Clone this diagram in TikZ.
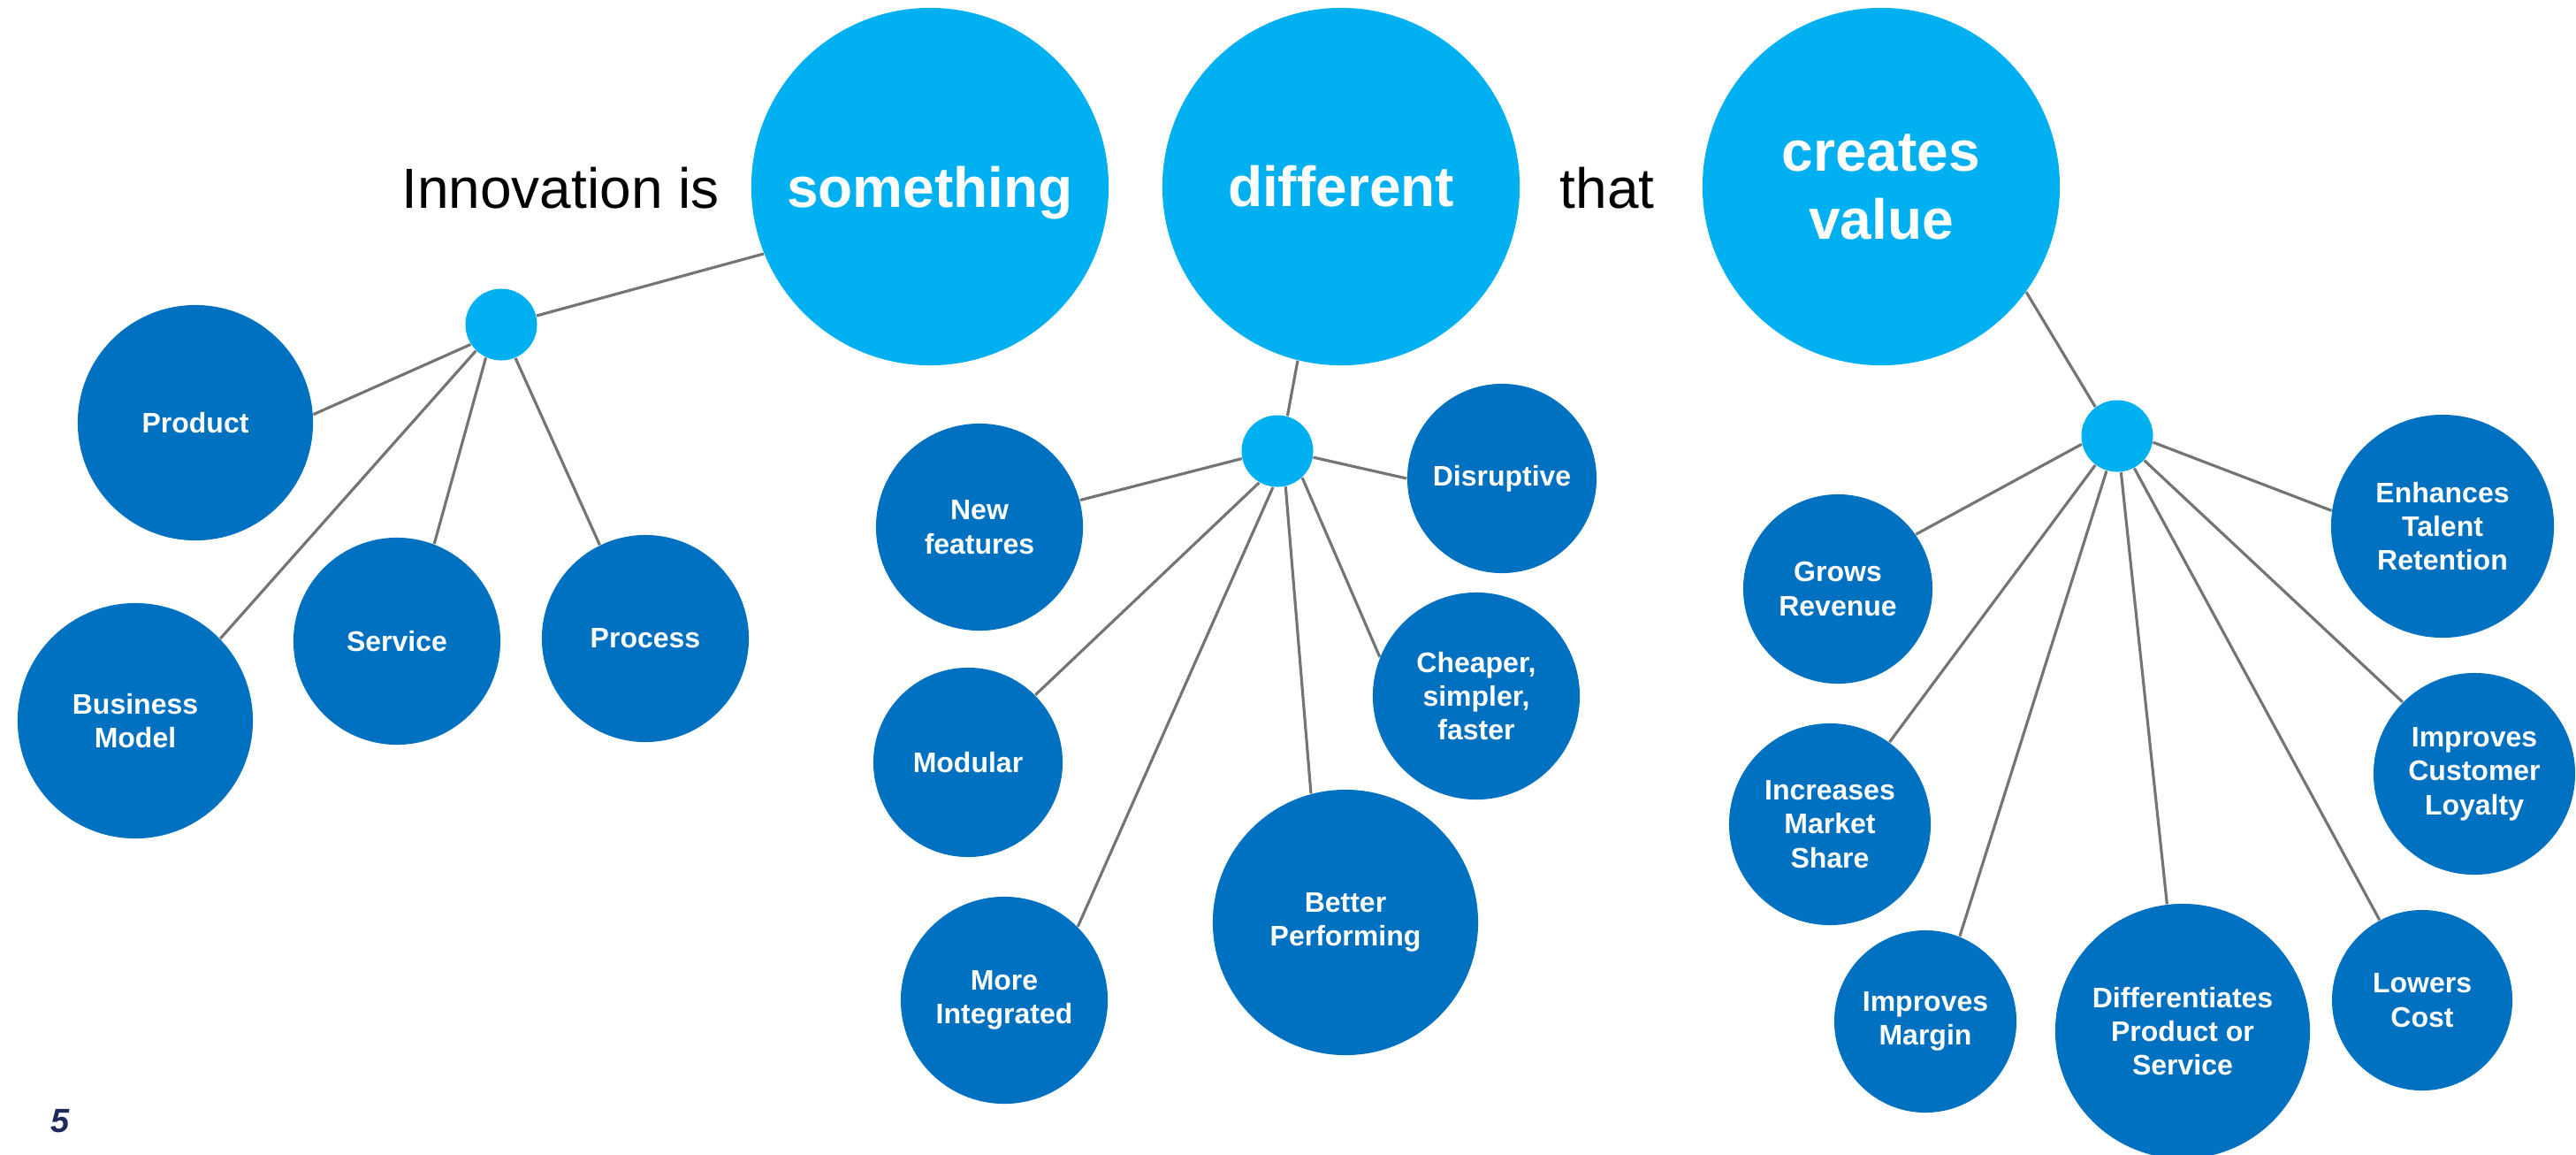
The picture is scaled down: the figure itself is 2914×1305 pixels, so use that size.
\documentclass[tikz,border=0pt]{standalone}
\usepackage{fontspec}
\setmainfont{Liberation Sans}
\usepackage{tikz}

\definecolor{lightblue}{HTML}{00B0F0}
\definecolor{darkblue}{HTML}{0070C0}
\definecolor{linegray}{HTML}{747474}
\definecolor{navy}{HTML}{1F2A5C}

\begin{document}
\begin{tikzpicture}[x=0.01cm,y=-0.01cm,
  word/.style={circle,fill=lightblue,inner sep=0pt,minimum size=4.04cm,text=white,align=center,font=\fontsize{18.2}{21.9}\selectfont\bfseries},
  hub/.style={circle,fill=lightblue,inner sep=0pt,minimum size=0.81cm},
  leaf/.style={circle,fill=darkblue,inner sep=0pt,minimum size=#1,text=white,align=center,font=\fontsize{9.1}{10.9}\selectfont\bfseries},
  plain/.style={anchor=base,font=\fontsize{18.2}{21.9}\selectfont},
  link/.style={draw=linegray,line width=0.9pt}]
\useasboundingbox (0,0) rectangle (2914,1305);

%Satz oben
\node[plain] (innov) at (634,235) {Innovation is};
\node[word,text depth=0pt] (something) at (1052,211) {something};
\node[word] (different) at (1517,211) {different};
\node[plain] (that) at (1818,235) {that};
\node[word] (creates) at (2128,211) {creates\\value};

%kleine Knoten
\node[hub] (hub1) at (567,367) {};
\node[hub] (hub2) at (1445,510) {};
\node[hub] (hub3) at (2395,493) {};

%was
\node[leaf=2.66cm] (product) at (221,478) {Product};
\node[leaf=2.66cm] (bizmodel) at (153,815) {Business\\Model};
\node[leaf=2.34cm] (service) at (449,725) {Service};
\node[leaf=2.34cm] (process) at (730,722) {Process};

%wie anders
\node[leaf=2.34cm] (newfeat) at (1108,596) {New\\features};
\node[leaf=2.14cm] (disrupt) at (1699,541) {Disruptive};
\node[leaf=2.14cm] (modular) at (1095,862) {Modular};
\node[leaf=2.34cm] (cheaper) at (1670,787) {Cheaper,\\simpler,\\faster};
\node[leaf=3.00cm] (better) at (1522,1043) {Better\\Performing};
\node[leaf=2.34cm] (integrated) at (1136,1131) {More\\Integrated};

%welcher Wert
\node[leaf=2.14cm] (grows) at (2079,666) {Grows\\Revenue};
\node[leaf=2.52cm] (talent) at (2763,595) {Enhances\\Talent\\Retention};
\node[leaf=2.28cm] (market) at (2070,932) {Increases\\Market\\Share};
\node[leaf=2.28cm] (loyalty) at (2799,875) {Improves\\Customer\\Loyalty};
\node[leaf=2.06cm] (margin) at (2178,1155) {Improves\\Margin};
\node[leaf=2.88cm] (differ) at (2469,1166) {Differentiates\\Product or\\Service};
\node[leaf=2.04cm] (lowers) at (2740,1131) {Lowers\\Cost};

\node[text=navy,font=\fontsize{10.8}{13}\selectfont\bfseries\itshape] (pagenum) at (68,1268) {5};

%Linien
\foreach \a/\b in {hub1.14/something.202, hub1.213/product.4, hub1.226/bizmodel.44,
    hub1.245/service.69, hub1.293/process.116,
    different.256/hub2.74, hub2.192/newfeat.15, hub2.350/disrupt.180, hub2.240/modular.45,
    hub2.263/integrated.45, hub2.283/better.105, hub2.313/cheaper.158,
    creates.324/hub3.127, hub3.193/grows.35, hub3.350/talent.172, hub3.233/market.54,
    hub3.253/margin.68, hub3.276/differ.97, hub3.298/lowers.118, hub3.318/loyalty.135}
  \draw[link] (\a) -- (\b);
\end{tikzpicture}
\end{document}
